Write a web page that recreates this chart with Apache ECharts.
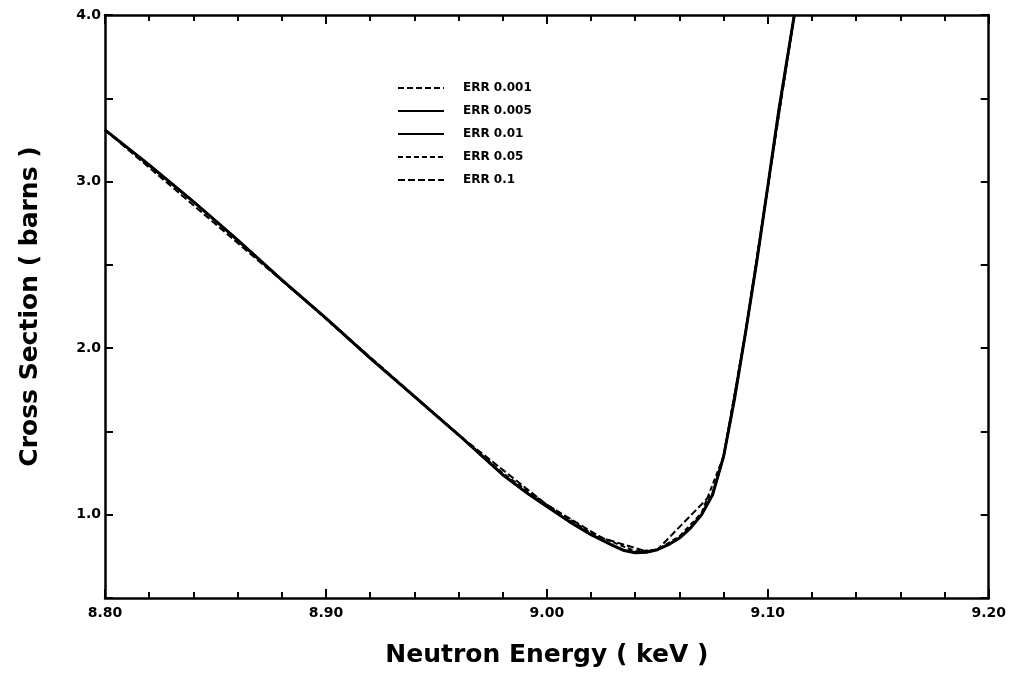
<!DOCTYPE html>
<html>
<head>
<meta charset="utf-8">
<script src="https://cdn.jsdelivr.net/npm/echarts@6/dist/echarts.min.js"></script>
<style>
html,body{margin:0;padding:0;background:#fff;}
#chart{width:1009px;height:673px;}
</style>
</head>
<body>
<div id="chart"></div>
<script>
// Fine energy grid (keV) used by the converged reconstructions
const energyFine = [8.80, 8.82, 8.84, 8.86, 8.88, 8.90, 8.92, 8.94, 8.96, 8.98, 8.99, 9.00, 9.01, 9.02, 9.03, 9.035, 9.04, 9.045, 9.05, 9.055, 9.06, 9.065, 9.07, 9.075, 9.08, 9.085, 9.09, 9.095, 9.10, 9.105, 9.112];
const sigmaErr0001 = [3.31, 3.10, 2.88, 2.65, 2.41, 2.18, 1.94, 1.71, 1.48, 1.24, 1.14, 1.05, 0.96, 0.88, 0.815, 0.785, 0.772, 0.775, 0.79, 0.82, 0.86, 0.92, 1.00, 1.12, 1.35, 1.70, 2.10, 2.52, 2.97, 3.43, 4.00];
const sigmaErr0005 = [3.31, 3.10, 2.88, 2.65, 2.41, 2.18, 1.94, 1.71, 1.48, 1.24, 1.14, 1.05, 0.96, 0.88, 0.815, 0.785, 0.772, 0.775, 0.79, 0.82, 0.86, 0.92, 1.00, 1.12, 1.35, 1.70, 2.10, 2.52, 2.97, 3.43, 4.00];
const sigmaErr001  = [3.31, 3.10, 2.88, 2.65, 2.41, 2.18, 1.94, 1.71, 1.48, 1.24, 1.14, 1.05, 0.96, 0.88, 0.815, 0.785, 0.772, 0.775, 0.79, 0.82, 0.86, 0.92, 1.00, 1.12, 1.35, 1.70, 2.10, 2.52, 2.97, 3.43, 4.00];
// Coarser reconstructions
const energyErr005 = [8.80, 8.84, 8.88, 8.92, 8.96, 8.98, 9.00, 9.02, 9.04, 9.05, 9.06, 9.07, 9.08, 9.09, 9.10, 9.112];
const sigmaErr005  = [3.31, 2.88, 2.41, 1.94, 1.48, 1.25, 1.06, 0.89, 0.78, 0.79, 0.87, 1.01, 1.35, 2.10, 2.97, 4.00];
const energyErr01  = [8.80, 8.90, 8.96, 9.00, 9.025, 9.045, 9.05, 9.075, 9.08, 9.09, 9.10, 9.112];
const sigmaErr01   = [3.31, 2.18, 1.48, 1.06, 0.86, 0.78, 0.79, 1.13, 1.35, 2.10, 2.97, 4.00];

const xTicksMajor = [8.80, 8.90, 9.00, 9.10, 9.20];
const yTickLabels = [1.0, 2.0, 3.0, 4.0];

const pairs = (xs, ys) => xs.map((x, i) => [x, ys[i]]);

const FONT = 'DejaVu Sans';
const axisLineStyle = { color: '#000', width: 2.5 };

function xAxisCfg(pos, showLabel) {
  return {
    type: 'value', position: pos, min: 8.8, max: 9.2, interval: 0.1,
    axisLine: { show: true, onZero: false, lineStyle: axisLineStyle },
    axisTick: { show: true, inside: true, length: 9, lineStyle: { color: '#000', width: 2 } },
    minorTick: { show: true, splitNumber: 5, length: 6, lineStyle: { color: '#000', width: 2 } },
    splitLine: { show: false }, minorSplitLine: { show: false },
    axisLabel: {
      show: showLabel, margin: 8, color: '#000', fontFamily: FONT, fontWeight: 'bold', fontSize: 14,
      formatter: v => xTicksMajor.some(t => Math.abs(t - v) < 1e-6) ? v.toFixed(2) : ''
    }
  };
}
function yAxisCfg(pos, showLabel) {
  return {
    type: 'value', position: pos, min: 0.5, max: 4.0, interval: 0.5,
    axisLine: { show: true, onZero: false, lineStyle: axisLineStyle },
    axisTick: { show: true, inside: true, length: 8, lineStyle: { color: '#000', width: 2 } },
    splitLine: { show: false },
    axisLabel: {
      show: showLabel, margin: 4, color: '#000', fontFamily: FONT, fontWeight: 'bold', fontSize: 14,
      formatter: v => yTickLabels.some(t => Math.abs(t - v) < 1e-6) ? v.toFixed(1) : ''
    }
  };
}

const xb = xAxisCfg('bottom', true);
xb.name = 'Neutron Energy ( keV )';
xb.nameLocation = 'middle';
xb.nameGap = 45;
xb.nameTextStyle = { color: '#000', fontFamily: FONT, fontWeight: 'bold', fontSize: 25 };
const yl = yAxisCfg('left', true);
yl.name = 'Cross Section ( barns )';
yl.nameLocation = 'middle';
yl.nameGap = 62;
yl.nameTextStyle = { color: '#000', fontFamily: FONT, fontWeight: 'bold', fontSize: 25 };

function lineSeries(name, data, width, type) {
  return {
    name, type: 'line', data, symbol: 'none', showSymbol: false, smooth: false, clip: true,
    xAxisIndex: 0, yAxisIndex: 0, animation: false, color: '#000',
    itemStyle: { color: '#000' },
    lineStyle: { color: '#000', width, type }
  };
}

const chart = echarts.init(document.getElementById('chart'), null, { renderer: 'canvas' });
chart.setOption({
  backgroundColor: '#fff',
  animation: false,
  grid: { left: 105, right: 19, top: 15, bottom: 75 },
  xAxis: [xb, xAxisCfg('top', false)],
  yAxis: [yl, yAxisCfg('right', false)],
  legend: {
    orient: 'vertical', left: 392, top: 77, itemWidth: 46, itemHeight: 10, itemGap: 11,
    itemStyle: { color: 'rgba(0,0,0,0)', borderWidth: 0, opacity: 0 },
    textStyle: { color: '#000', fontFamily: FONT, fontWeight: 'bold', fontSize: 12, padding: [0, 0, 0, 14] },
    data: ['ERR 0.001', 'ERR 0.005', 'ERR 0.01', 'ERR 0.05', 'ERR 0.1']
  },
  series: [
    lineSeries('ERR 0.001', pairs(energyFine, sigmaErr0001), 2, [6, 3]),
    lineSeries('ERR 0.005', pairs(energyFine, sigmaErr0005), 2, 'solid'),
    lineSeries('ERR 0.01', pairs(energyFine, sigmaErr001), 3, 'solid'),
    lineSeries('ERR 0.05', pairs(energyErr005, sigmaErr005), 2, [5, 3]),
    lineSeries('ERR 0.1', pairs(energyErr01, sigmaErr01), 2, [7, 3])
  ]
});
</script>
</body>
</html>
